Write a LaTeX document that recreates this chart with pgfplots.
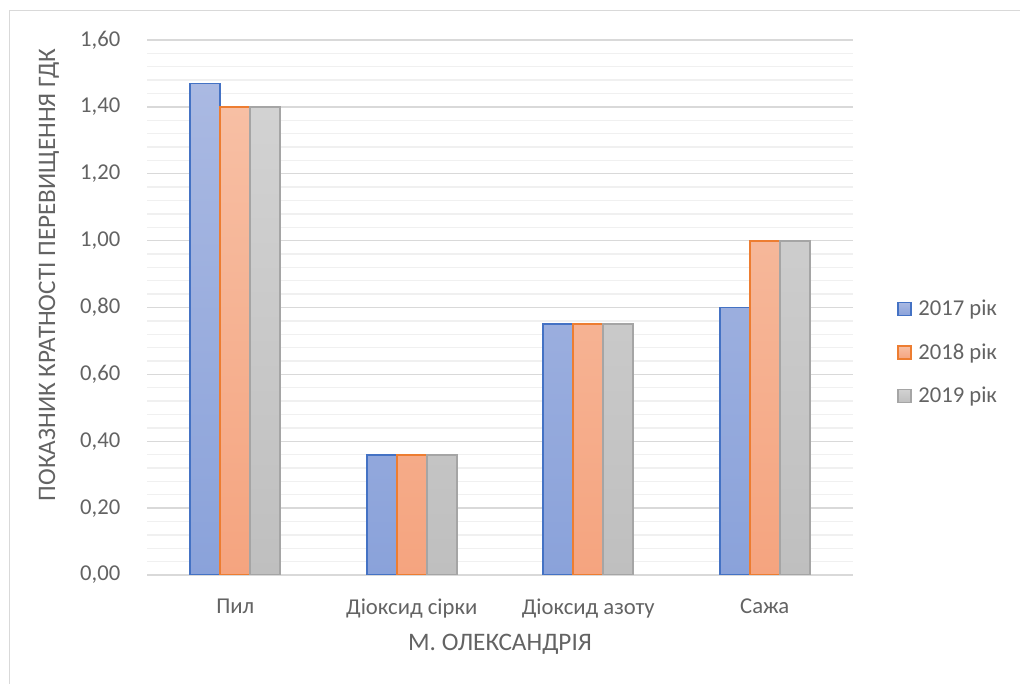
\documentclass[border=0pt]{standalone}
\usepackage{fontspec}
\setmainfont{Carlito}
\usepackage{pgfplots}
\pgfplotsset{compat=1.18}

\definecolor{txt}{HTML}{636363}
\definecolor{majgrid}{HTML}{D9D9D9}
\definecolor{mingrid}{HTML}{F0F0F0}
\definecolor{frame}{HTML}{D9D9D9}
\definecolor{blueedge}{HTML}{4472C4}
\definecolor{bluetop}{HTML}{AAB9E2}
\definecolor{bluebot}{HTML}{8AA2DA}
\definecolor{orangeedge}{HTML}{ED7D31}
\definecolor{orangetop}{HTML}{F7BFA4}
\definecolor{orangebot}{HTML}{F5A47F}
\definecolor{grayedge}{HTML}{A5A5A5}
\definecolor{graytop}{HTML}{D2D2D2}
\definecolor{graybot}{HTML}{BFBFBF}

\begin{document}
\begin{tikzpicture}[x=1pt,y=1pt]
  % page size and the chart-area border (top and left edges)
  \path[use as bounding box] (0,0) rectangle (765,513);
  \draw[frame, line width=0.9pt] (7,0) -- (7,505) -- (765,505);

  \begin{axis}[
    at={(110.25pt,81.75pt)}, anchor=south west,
    scale only axis,
    width=529.5pt, height=401.25pt,
    xmin=-0.5, xmax=3.5,
    ymin=0, ymax=1.6,
    xtick={0,1,2,3},
    xticklabels={Пил, Діоксид сірки, Діоксид азоту, Сажа},
    ytick={0,0.2,...,1.6},
    minor y tick num=4,
    ymajorgrids, yminorgrids,
    major grid style={majgrid, line width=1pt},
    minor grid style={mingrid, line width=1pt},
    axis line style={draw=none},
    tick style={draw=none},
    font=\fontsize{17}{20}\selectfont,
    every tick label/.append style={text=txt},
    /pgf/number format/.cd, fixed, fixed zerofill, precision=2, use comma, assume math mode=true,
    /pgfplots/.cd,
    yticklabel style={xshift=-16.5pt},
    xticklabel style={yshift=-14.5pt},
    xlabel={М. ОЛЕКСАНДРІЯ},
    xlabel style={at={(axis description cs:0.5,-0.129)}, anchor=center, text=txt,
                  font=\fontsize{18.9}{22}\selectfont},
    ylabel={ПОКАЗНИК КРАТНОСТІ ПЕРЕВИЩЕННЯ ГДК},
    ylabel style={at={(axis description cs:-0.1388,0.561)}, anchor=center, text=txt,
                  font=\fontsize{18.9}{22}\selectfont},
    bar width=0.17,
    legend style={at={(rel axis cs:1.062,0.416)}, anchor=west, draw=none, fill=none,
                  text=txt, row sep=19.4pt, inner sep=0pt,
                  nodes={inner sep=0pt},
                  /tikz/every odd column/.append style={column sep=5pt}},
    legend cell align=left,
    legend image code/.code={\draw[#1, line width=1.2pt] (0pt,-4.9pt) rectangle (9.75pt,4.9pt);},
  ]
    \addplot[ybar, bar shift=-0.17, draw=blueedge, line width=1.4pt, top color=bluetop, bottom color=bluebot]
      coordinates {(0,1.47) (1,0.36) (2,0.75) (3,0.80)};
    \addplot[ybar, bar shift=0, draw=orangeedge, line width=1.4pt, top color=orangetop, bottom color=orangebot]
      coordinates {(0,1.40) (1,0.36) (2,0.75) (3,1.00)};
    \addplot[ybar, bar shift=0.17, draw=grayedge, line width=1.4pt, top color=graytop, bottom color=graybot]
      coordinates {(0,1.40) (1,0.36) (2,0.75) (3,1.00)};
    \legend{2017 рік, 2018 рік, 2019 рік}
  \end{axis}
\end{tikzpicture}
\end{document}
